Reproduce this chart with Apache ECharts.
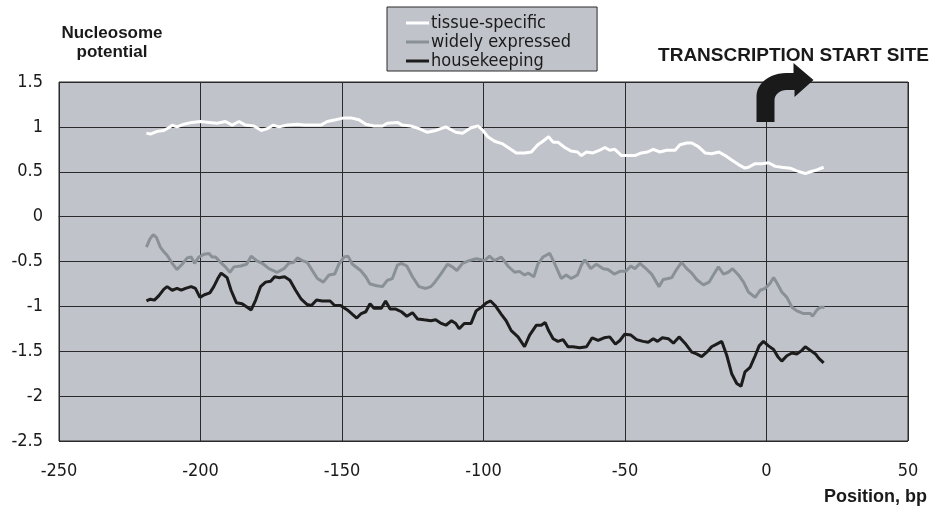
<!DOCTYPE html>
<html>
<head>
<meta charset="utf-8">
<script src="https://cdn.jsdelivr.net/npm/echarts@6/dist/echarts.min.js"></script>
<style>
  html, body { margin: 0; padding: 0; background: #fff; }
  #chart { width: 932px; height: 511px; }
</style>
</head>
<body>
<div id="chart"></div>
<script>
// series names
const seriesNames = ['tissue-specific', 'widely expressed', 'housekeeping'];

// [position bp, nucleosome potential]
const tissueSpecific = [
  [-219.1, 0.93], [-217.7, 0.92], [-215.3, 0.95], [-213, 0.96], [-211.2, 0.99], [-210, 1.02],
  [-208.3, 1.0], [-205.9, 1.03], [-203, 1.05], [-200, 1.06], [-197, 1.05], [-194.1, 1.04],
  [-191.2, 1.06], [-188.8, 1.02], [-186.4, 1.06], [-184.1, 1.02], [-181.1, 1.01], [-178.5, 0.96],
  [-176.4, 0.98], [-174.3, 1.02], [-172.3, 1.0], [-169.3, 1.02], [-165.8, 1.03], [-163.4, 1.02],
  [-160.5, 1.02], [-157.5, 1.02], [-155.2, 1.06], [-152.2, 1.08], [-149.3, 1.1], [-146.9, 1.1],
  [-144, 1.08], [-141.6, 1.03], [-138.7, 1.01], [-135.7, 1.01], [-134, 1.04], [-130.4, 1.05],
  [-128.7, 1.02], [-125.7, 1.01], [-122.8, 0.98], [-119.8, 0.94], [-116.9, 0.96], [-113.3, 1.0],
  [-109.8, 0.94], [-107.4, 0.93], [-104.4, 0.99], [-102, 1.01], [-100.2, 0.96], [-98.5, 0.89],
  [-96.1, 0.84], [-93.2, 0.81], [-90.8, 0.76], [-88.4, 0.71], [-85.5, 0.71], [-83.1, 0.72],
  [-80.8, 0.8], [-79, 0.84], [-77, 0.89], [-75.4, 0.83], [-73.7, 0.83], [-71.3, 0.77],
  [-69, 0.73], [-66.8, 0.72], [-65.4, 0.68], [-63.6, 0.72], [-61.3, 0.71], [-58.9, 0.74],
  [-57.1, 0.77], [-55.4, 0.74], [-53.6, 0.75], [-51.2, 0.68], [-48.9, 0.68], [-46.5, 0.68],
  [-44.2, 0.71], [-42, 0.72], [-40, 0.75], [-37.7, 0.72], [-35.3, 0.74], [-32.3, 0.74],
  [-30.6, 0.8], [-28.2, 0.82], [-26.4, 0.82], [-24.1, 0.78], [-21.7, 0.71], [-19.4, 0.7],
  [-16.8, 0.72], [-14.6, 0.68], [-12.3, 0.63], [-9.9, 0.58], [-7.6, 0.54], [-6.4, 0.55],
  [-4, 0.59], [-1.7, 0.59], [0.7, 0.6], [3.1, 0.56], [5.4, 0.55], [8.4, 0.54],
  [10.7, 0.51], [13.7, 0.48], [15.5, 0.5], [17.8, 0.52], [20.2, 0.55]
];

const widelyExpressed = [
  [-219.1, -0.34], [-217.9, -0.25], [-216.7, -0.2], [-215.6, -0.23], [-214.2, -0.34], [-213, -0.39],
  [-211.8, -0.43], [-210, -0.52], [-208.3, -0.59], [-206.5, -0.53], [-204.7, -0.46], [-203.3, -0.45],
  [-202.1, -0.52], [-200.6, -0.45], [-198.8, -0.42], [-197, -0.41], [-195.9, -0.45], [-194.7, -0.45],
  [-192.9, -0.51], [-191.2, -0.56], [-189.6, -0.62], [-188.2, -0.56], [-185.8, -0.55], [-183.7, -0.53],
  [-182.1, -0.44], [-180.2, -0.49], [-178.2, -0.52], [-175.8, -0.58], [-172.9, -0.62], [-170.5, -0.58],
  [-168.8, -0.52], [-167, -0.51], [-165.8, -0.46], [-164, -0.49], [-162.3, -0.51], [-160.5, -0.6],
  [-158.7, -0.69], [-156.6, -0.73], [-154.6, -0.65], [-152.6, -0.64], [-151.1, -0.53], [-149.3, -0.45],
  [-147.9, -0.44], [-146.3, -0.53], [-143.4, -0.6], [-141.6, -0.67], [-140.1, -0.75], [-137.7, -0.77],
  [-135.7, -0.78], [-134, -0.71], [-132.2, -0.69], [-130.4, -0.54], [-129, -0.52], [-127.1, -0.55],
  [-125.1, -0.67], [-122.8, -0.78], [-120.4, -0.8], [-118.6, -0.78], [-117.2, -0.73], [-115.1, -0.64],
  [-112.7, -0.53], [-111, -0.56], [-109.4, -0.6], [-107.4, -0.52], [-105.1, -0.49], [-104.4, -0.51],
  [-102.6, -0.47], [-100.8, -0.48], [-99.6, -0.49], [-97.9, -0.44], [-96.1, -0.49], [-93.7, -0.45],
  [-91.4, -0.55], [-89, -0.62], [-87.3, -0.61], [-85.5, -0.65], [-84.1, -0.63], [-82.2, -0.67],
  [-80.8, -0.53], [-79, -0.45], [-76.6, -0.41], [-74.9, -0.52], [-72.5, -0.69], [-70.8, -0.65],
  [-69, -0.69], [-66.8, -0.65], [-65.4, -0.54], [-64.2, -0.48], [-62.1, -0.58], [-60.1, -0.53],
  [-57.7, -0.58], [-56, -0.59], [-53.8, -0.64], [-51.8, -0.61], [-49.8, -0.61], [-47.9, -0.55],
  [-46.5, -0.58], [-44.7, -0.52], [-42.9, -0.57], [-40.6, -0.64], [-38, -0.78], [-36.5, -0.7],
  [-34.7, -0.69], [-33.5, -0.68], [-31.8, -0.59], [-30, -0.51], [-28.2, -0.58], [-26.4, -0.63],
  [-24.7, -0.7], [-22.3, -0.76], [-20.3, -0.73], [-18.8, -0.65], [-17, -0.56], [-15.2, -0.64],
  [-13.5, -0.62], [-12, -0.58], [-9.9, -0.65], [-8.1, -0.73], [-6.4, -0.84], [-4, -0.9],
  [-2.2, -0.82], [-0.5, -0.8], [1.1, -0.75], [2.5, -0.68], [3.7, -0.74], [5.4, -0.84],
  [7.2, -0.9], [9, -1.01], [10.7, -1.05], [13.1, -1.08], [15.5, -1.08], [16.3, -1.11],
  [17.8, -1.04], [19, -1.01], [20.5, -1.01]
];

const housekeeping = [
  [-219.1, -0.94], [-217.7, -0.92], [-216.3, -0.93], [-214.7, -0.88], [-213, -0.81], [-211.8, -0.78],
  [-210, -0.82], [-208.3, -0.8], [-206.8, -0.82], [-205.3, -0.8], [-203.3, -0.78], [-201.8, -0.8],
  [-200.2, -0.9], [-198.6, -0.87], [-196.7, -0.85], [-195.3, -0.78], [-193.9, -0.69], [-192.7, -0.63],
  [-190.6, -0.68], [-189.2, -0.82], [-187.3, -0.96], [-185.3, -0.97], [-183.5, -1.01], [-182.1, -1.04],
  [-180.5, -0.93], [-178.8, -0.78], [-177, -0.73], [-175.2, -0.72], [-173.8, -0.67], [-172.3, -0.68],
  [-170.3, -0.67], [-168.4, -0.71], [-166.4, -0.82], [-164.4, -0.92], [-162.3, -0.98], [-160.8, -0.99],
  [-159, -0.93], [-157, -0.94], [-154.2, -0.94], [-152.6, -0.99], [-150.5, -0.99], [-148.1, -1.04],
  [-146.3, -1.09], [-144.8, -1.13], [-143.2, -1.08], [-141.6, -1.06], [-140.1, -0.97], [-138.7, -1.02],
  [-136.1, -1.02], [-134.6, -0.94], [-133, -1.03], [-131, -1.03], [-129, -1.06], [-127.1, -1.11],
  [-125.1, -1.07], [-123.3, -1.14], [-121, -1.15], [-118.6, -1.16], [-116.9, -1.15], [-114.9, -1.19],
  [-113.3, -1.21], [-111.3, -1.16], [-109.8, -1.19], [-108.6, -1.25], [-106.8, -1.19], [-104.4, -1.19],
  [-102.6, -1.05], [-100.8, -1.01], [-99, -0.96], [-97.5, -0.94], [-95.9, -0.99], [-93.7, -1.09],
  [-92, -1.16], [-90.2, -1.27], [-87.8, -1.34], [-85.5, -1.45], [-83.7, -1.32], [-81.3, -1.21],
  [-79.6, -1.21], [-78.2, -1.18], [-77, -1.27], [-75.4, -1.36], [-73.7, -1.39], [-71.9, -1.37],
  [-70.1, -1.45], [-68.4, -1.45], [-66, -1.46], [-63.6, -1.45], [-61.6, -1.35], [-59.5, -1.38],
  [-57.4, -1.35], [-55.4, -1.34], [-53.4, -1.42], [-51.8, -1.38], [-50.1, -1.31], [-47.9, -1.32],
  [-45.9, -1.37], [-43.6, -1.39], [-41.8, -1.4], [-40, -1.36], [-38.5, -1.39], [-36.8, -1.35],
  [-34.7, -1.36], [-32.9, -1.41], [-30.9, -1.34], [-28.8, -1.41], [-26.4, -1.51], [-24.7, -1.53],
  [-22.9, -1.56], [-21.1, -1.51], [-19.4, -1.45], [-17.6, -1.42], [-15.8, -1.39], [-14, -1.55],
  [-12.3, -1.75], [-10.5, -1.86], [-9, -1.89], [-7.6, -1.73], [-5.8, -1.68], [-4, -1.55],
  [-2.6, -1.44], [-1.1, -1.39], [0.7, -1.44], [2.5, -1.48], [4, -1.56], [5.4, -1.61],
  [7.2, -1.55], [9, -1.52], [10.7, -1.53], [12.5, -1.49], [13.7, -1.45], [15.5, -1.49],
  [17.3, -1.53], [18.5, -1.58], [20.2, -1.63]
];

const seriesColors = ['#ffffff', '#8a9196', '#1c1c1c'];

const labelFont = '"DejaVu Sans Condensed", "DejaVu Sans", sans-serif';
const boldFont = '"Liberation Sans", Arial, sans-serif';

const chart = echarts.init(document.getElementById('chart'));

const makeSeries = (name, data, color) => ({
  name,
  type: 'line',
  data,
  showSymbol: false,
  symbol: 'none',
  smooth: false,
  lineStyle: { color, width: 3 },
  itemStyle: { color },
  emphasis: { disabled: true }
});

const option = {
  animation: false,
  backgroundColor: '#ffffff',
  grid: {
    left: 59,
    right: 24,
    top: 82,
    bottom: 70,
    show: true,
    backgroundColor: '#c0c3ca',
    borderColor: '#2a2a2a',
    borderWidth: 1
  },
  legend: {
    orient: 'vertical',
    left: 387,
    top: 7,
    padding: [7, 26, 1, 19],
    itemGap: 1,
    itemWidth: 23,
    itemHeight: 3,
    itemStyle: { borderWidth: 0 },
    icon: 'rect',
    backgroundColor: '#c0c3ca',
    borderColor: '#2a2a2a',
    borderWidth: 1,
    textStyle: { fontFamily: labelFont, fontSize: 18, color: '#1a1a1a', padding: [0, 0, 0, -3] },
    data: seriesNames
  },
  xAxis: {
    type: 'value',
    min: -250,
    max: 50,
    interval: 50,
    axisLine: { show: true, lineStyle: { color: '#2a2a2a', width: 1 } },
    axisTick: { show: false },
    axisLabel: { margin: 21, fontFamily: labelFont, fontSize: 18, color: '#1a1a1a' },
    splitLine: { show: true, lineStyle: { color: '#2a2a2a', width: 1 } }
  },
  yAxis: {
    type: 'value',
    min: -2.5,
    max: 1.5,
    interval: 0.5,
    axisLine: { show: true, lineStyle: { color: '#2a2a2a', width: 1 } },
    axisTick: { show: false },
    axisLabel: { margin: 16, fontFamily: labelFont, fontSize: 18, color: '#1a1a1a' },
    splitLine: { show: true, lineStyle: { color: '#2a2a2a', width: 1 } }
  },
  series: [
    makeSeries(seriesNames[0], tissueSpecific, seriesColors[0]),
    makeSeries(seriesNames[1], widelyExpressed, seriesColors[1]),
    makeSeries(seriesNames[2], housekeeping, seriesColors[2])
  ]
};

chart.setOption(option);

// quarter ellipse points for the bent arrow
const arcPoints = (cx, cy, rx, ry, fromDeg, toDeg, steps) => {
  const pts = [];
  for (let i = 0; i <= steps; i++) {
    const a = (fromDeg + (toDeg - fromDeg) * i / steps) * Math.PI / 180;
    pts.push([cx + rx * Math.cos(a), cy + ry * Math.sin(a)]);
  }
  return pts;
};

// transcription start site arrow, anchored at x = 0
const x0 = chart.convertToPixel({ gridIndex: 0 }, [0, 1.5])[0];
const ax = x0 - 10;
const arrowPoints = [
  [ax, 122],
  ...arcPoints(ax + 30, 96, 30, 23, 180, 270, 12),
  [ax + 37, 73], [ax + 37, 63], [ax + 57, 80], [ax + 38, 97], [ax + 38, 90],
  ...arcPoints(ax + 30, 100, 12, 10, 270, 180, 8),
  [ax + 18, 122]
];

const boldText = (text, x, y, align, size) => ({
  type: 'text',
  x,
  y,
  style: {
    text,
    fontFamily: boldFont,
    fontWeight: 'bold',
    fontSize: size,
    lineHeight: 19,
    fill: '#1a1a1a',
    align,
    textAlign: align,
    verticalAlign: 'top',
    textVerticalAlign: 'top'
  }
});

chart.setOption({
  graphic: [
    boldText('Nucleosome\npotential', 112, 24, 'center', 17),
    boldText('TRANSCRIPTION START SITE', 929, 46, 'right', 19),
    boldText('Position, bp', 927, 488, 'right', 18),
    {
      type: 'polygon',
      shape: { points: arrowPoints },
      style: { fill: '#1a1a1a' },
      z: 100
    }
  ]
});

window.addEventListener('resize', () => chart.resize());
</script>
</body>
</html>
